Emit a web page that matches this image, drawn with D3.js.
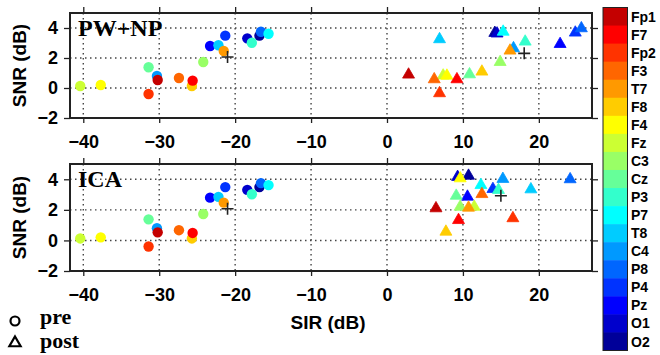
<!DOCTYPE html>
<html>
<head>
<meta charset="utf-8">
<script src="https://cdn.jsdelivr.net/npm/d3@7"></script>
<style>
  body { margin: 0; background: #fff; }
  svg { display: block; }
  .axis text { font-family: "Liberation Sans", Arial, sans-serif; font-weight: bold; font-size: 18px; fill: #000; }
  .axis path, .axis line { stroke: #222; }
  .grid line { stroke: #444; stroke-width: 1.4; stroke-dasharray: 1.5,3.5; }
</style>
</head>
<body>
<svg id="chart" width="660" height="355"></svg>
<script>
// channel names, top of the colour bar first
const channels = ['Fp1', 'F7', 'Fp2', 'F3', 'T7', 'F8', 'F4', 'Fz', 'C3', 'Cz',
    'P3', 'P7', 'T8', 'C4', 'P8', 'P4', 'Pz', 'O1', 'O2'];
const channelColors = ['#c40000', '#ff0000', '#ff3300', '#ff6600', '#ff9900', '#ffcc00',
    '#ffff00', '#ccff33', '#99ff66', '#66ff99', '#33ffcc', '#00ffff', '#00ccff',
    '#0099ff', '#0066ff', '#0033ff', '#0000ff', '#0000cc', '#000099'];

// pre (same in both panels), in channel order
const preSIR = [-30.2, -25.6, -31.4, -27.4, -21.5, -25.7, -37.7, -40.4, -24.2, -31.4,
    -17.8, -15.6, -22.2, -30.3, -16.6, -21.3, -23.3, -18.4, -16.8];
const preSNR = [0.53, 0.49, -0.4, 0.67, 2.47, 0.13, 0.2, 0.13, 1.73, 1.38,
    3.02, 3.62, 2.85, 0.8, 3.75, 3.49, 2.8, 3.31, 3.49];

// post, PW+NP
const pwSIR = [2.84, 9.21, 6.92, 6.22, 16.2, 12.5, 7.89, 7.4, 14.9, 10.87,
    18.2, 15.3, 6.92, 16.66, 25.6, 24.8, 22.8, 14.5, 14.2];
const pwSNR = [0.89, 0.58, -0.35, 0.58, 2.49, 1.09, 0.82, 0.83, 1.73, 0.91,
    3.09, 3.75, 3.25, 2.65, 3.98, 3.69, 2.93, 3.63, 3.67];

// post, ICA
const icaSIR = [6.45, 9.42, 16.58, 12.5, 10.74, 7.76, 9.64, 11.49, 9.64, 9.12,
    14.68, 12.37, 18.95, 15.26, 24.12, 13.95, 10.6, 9.3, 10.74];
const icaSNR = [2.1, 1.33, 1.45, 3.03, 2.14, 0.57, 4.06, 2.2, 2.2, 2.92,
    3.3, 3.62, 3.34, 4.02, 4.0, 3.36, 2.86, 4.15, 4.23];

// "+" markers [pre, post]
const pwCross = [[-21.0, 2.07], [18.07, 2.31]];
const icaCross = [[-21.0, 2.07], [15.0, 2.92]];

const xTicks = [-40, -30, -20, -10, 0, 10, 20];
const yTicks = [-2, 0, 2, 4];

const svg = d3.select('#chart');
const plot_left = 70;
const plot_right = 592;
const panels = [
    { title: 'PW+NP', top: 13, bottom: 118, postX: pwSIR, postY: pwSNR, cross: pwCross },
    { title: 'ICA', top: 164, bottom: 271, postX: icaSIR, postY: icaSNR, cross: icaCross }
];

const xScale = d3.scaleLinear([-41.75, 27], [plot_left, plot_right]);
const color = d3.scaleOrdinal(channels, channelColors);
// draw the last channel first so Fp1 ends up on top
const drawOrder = d3.range(channels.length).reverse();
const triangle = d3.symbol().type(d3.symbolTriangle).size(62);

panels.forEach(p => {
    const yScale = d3.scaleLinear([-2, 5], [p.bottom, p.top]);
    const g = svg.append('g');

    // grid
    const grid = g.append('g').attr('class', 'grid');
    grid.selectAll('.gx')
        .data(xTicks)
        .enter()
        .append('line')
        .attr('x1', d => xScale(d))
        .attr('x2', d => xScale(d))
        .attr('y1', p.top)
        .attr('y2', p.bottom);
    grid.selectAll('.gy')
        .data(yTicks.slice(1))
        .enter()
        .append('line')
        .attr('x1', plot_left)
        .attr('x2', plot_right)
        .attr('y1', d => yScale(d))
        .attr('y2', d => yScale(d));

    // axes, ticks outside on all four sides
    g.append('g')
        .attr('class', 'axis')
        .attr('transform', `translate(0,${p.bottom})`)
        .call(d3.axisBottom(xScale).tickValues(xTicks).tickFormat(d3.format('d'))
            .tickSize(5).tickPadding(12).tickSizeOuter(0));
    g.append('g')
        .attr('class', 'axis')
        .attr('transform', `translate(0,${p.top})`)
        .call(d3.axisTop(xScale).tickValues(xTicks).tickSize(6).tickFormat('').tickSizeOuter(0));
    g.append('g')
        .attr('class', 'axis')
        .attr('transform', `translate(${plot_left},0)`)
        .call(d3.axisLeft(yScale).tickValues(yTicks).tickFormat(d3.format('d'))
            .tickSize(6).tickPadding(6).tickSizeOuter(0));
    g.append('g')
        .attr('class', 'axis')
        .attr('transform', `translate(${plot_right},0)`)
        .call(d3.axisRight(yScale).tickValues(yTicks).tickSize(6).tickFormat('').tickSizeOuter(0));
    g.selectAll('.axis path').remove();
    g.selectAll('.axis line').attr('stroke-width', 1.3);

    g.append('rect')
        .attr('x', plot_left)
        .attr('y', p.top)
        .attr('width', plot_right - plot_left)
        .attr('height', p.bottom - p.top)
        .attr('fill', 'none')
        .attr('stroke', '#222')
        .attr('stroke-width', 2);

    // pre circles
    g.selectAll('.pre')
        .data(drawOrder)
        .enter()
        .append('circle')
        .attr('cx', i => xScale(preSIR[i]))
        .attr('cy', i => yScale(preSNR[i]))
        .attr('r', 5.2)
        .style('fill', i => color(channels[i]));

    // post triangles
    g.selectAll('.post')
        .data(drawOrder)
        .enter()
        .append('path')
        .attr('d', triangle)
        .attr('transform', i => `translate(${xScale(p.postX[i])},${yScale(p.postY[i])})`)
        .style('fill', i => color(channels[i]))
        .style('stroke', i => color(channels[i]))
        .style('stroke-width', 0.8);

    // crosses
    g.selectAll('.cross')
        .data(p.cross)
        .enter()
        .append('path')
        .attr('transform', d => `translate(${xScale(d[0])},${yScale(d[1])})`)
        .attr('d', 'M-6,0H6M0,-6V6')
        .attr('stroke', '#222')
        .attr('stroke-width', 1.6);

    g.append('text')
        .attr('x', 78)
        .attr('y', p.top + 23)
        .text(p.title)
        .style('font-family', '"Liberation Serif", "Times New Roman", serif')
        .style('font-weight', 'bold')
        .style('font-size', '24px');

    g.append('text')
        .attr('transform', `translate(26,${(p.top + p.bottom) / 2}) rotate(-90)`)
        .attr('text-anchor', 'middle')
        .text('SNR (dB)')
        .style('font-family', '"Liberation Sans", Arial, sans-serif')
        .style('font-weight', 'bold')
        .style('font-size', '19px');
});

svg.append('text')
    .attr('x', 328)
    .attr('y', 329)
    .attr('text-anchor', 'middle')
    .text('SIR (dB)')
    .style('font-family', '"Liberation Sans", Arial, sans-serif')
    .style('font-weight', 'bold')
    .style('font-size', '19px');

// legend
svg.append('circle')
    .attr('cx', 15).attr('cy', 321)
    .attr('r', 4.5)
    .attr('fill', 'none').attr('stroke', '#000').attr('stroke-width', 2.2);
svg.append('path')
    .attr('d', d3.symbol().type(d3.symbolTriangle).size(55))
    .attr('transform', 'translate(15,343)')
    .attr('fill', 'none').attr('stroke', '#000').attr('stroke-width', 2.2);
[['pre', 324], ['post', 348]].forEach(([t, y]) => {
    svg.append('text')
        .attr('x', 40).attr('y', y)
        .text(t)
        .style('font-family', '"Liberation Serif", "Times New Roman", serif')
        .style('font-weight', 'bold')
        .style('font-size', '22px');
});

// colour bar
const barScale = d3.scaleBand().domain(channels).range([7.5, 350.5]);
const bar = svg.append('g');
bar.selectAll('rect')
    .data(channels)
    .enter()
    .append('rect')
    .attr('x', 603)
    .attr('y', d => barScale(d))
    .attr('width', 24.5)
    .attr('height', barScale.bandwidth() + 0.5)
    .style('fill', d => color(d));
bar.append('rect')
    .attr('x', 603).attr('y', 7.5)
    .attr('width', 24.5).attr('height', 343)
    .attr('fill', 'none').attr('stroke', '#222').attr('stroke-width', 1);
bar.selectAll('text')
    .data(channels)
    .enter()
    .append('text')
    .attr('x', 631)
    .attr('y', d => barScale(d) + barScale.bandwidth() / 2)
    .attr('dy', '0.36em')
    .text(d => d)
    .style('font-family', '"Liberation Sans", Arial, sans-serif')
    .style('font-weight', 'bold')
    .style('font-size', '14px');
</script>
</body>
</html>
